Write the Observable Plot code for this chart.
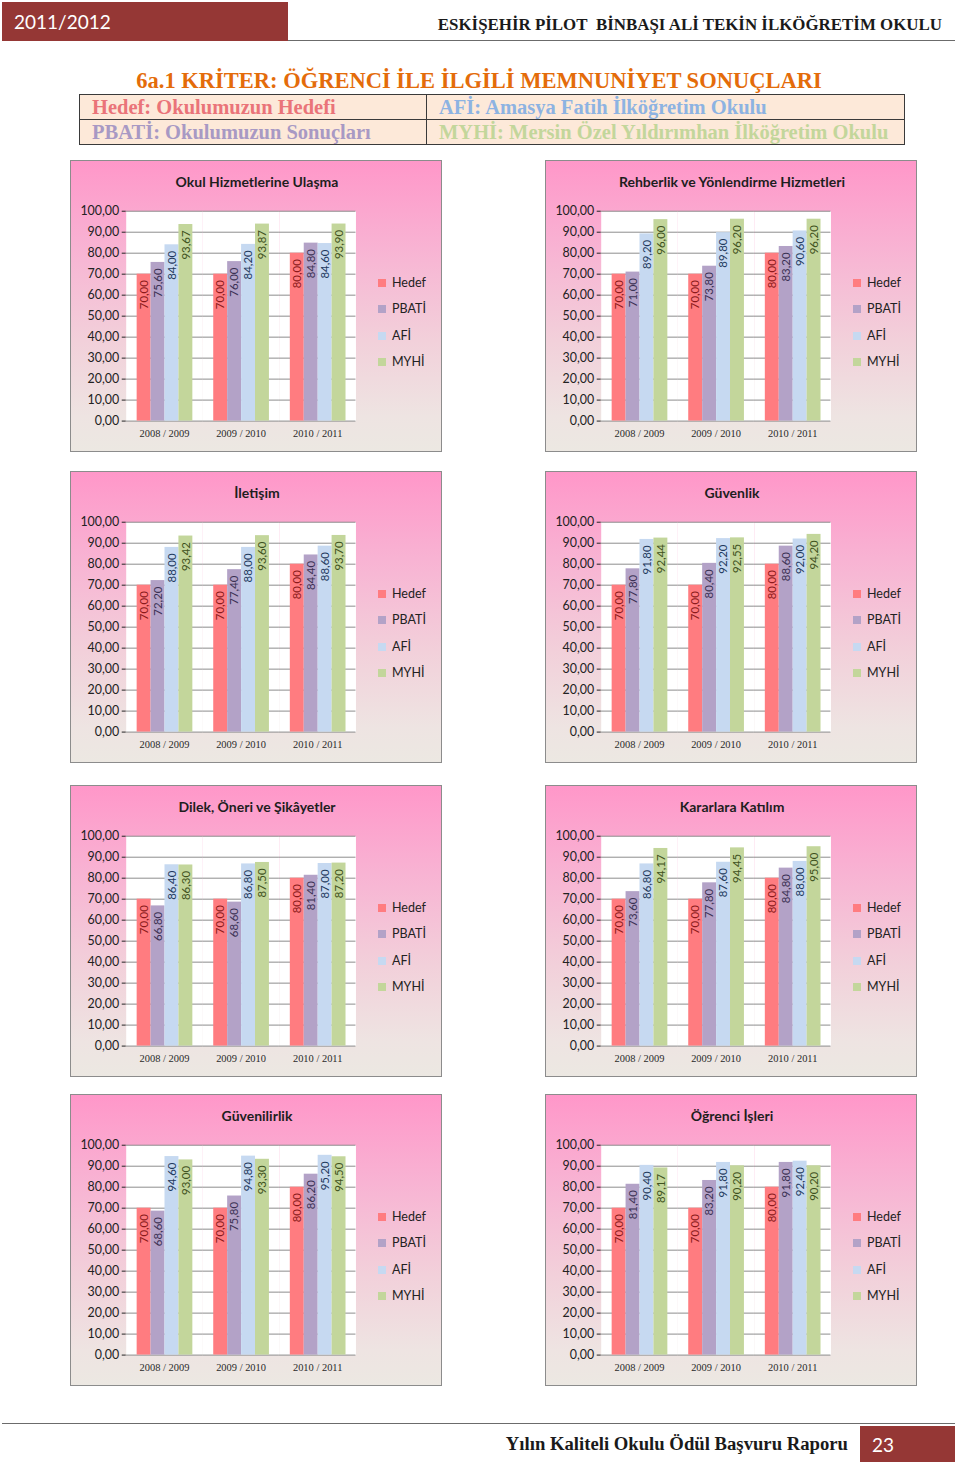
<!DOCTYPE html>
<html>
<head>
<meta charset="utf-8">
<script src="https://cdn.jsdelivr.net/npm/d3@7"></script>
<script src="https://cdn.jsdelivr.net/npm/@observablehq/plot@0.6"></script>
<style>
  html, body { margin: 0; padding: 0; background: #fff; }
  body { width: 960px; height: 1465px; position: relative; overflow: hidden; font-family: Lato, "Open Sans", sans-serif; }
  .abs { position: absolute; }
  #topbox { left: 2px; top: 2px; width: 286px; height: 39px; background: #953735; color: #fff; font: 19px Lato, sans-serif; line-height: 39px; padding-left: 12px; box-sizing: border-box; }
  #topline { left: 288px; top: 40px; width: 667px; height: 0; border-top: 1.5px solid #6b6b6b; }
  #school { right: 18px; top: 15px; font: bold 16.9px "Liberation Serif", serif; color: #1a1a1a; white-space: nowrap; }
  #maintitle { left: 0; width: 958px; top: 68px; text-align: center; font: bold 22.5px "Liberation Serif", serif; color: #e46c0a; white-space: nowrap; }
  #legendtable { left: 79px; top: 94px; width: 826px; height: 49px; border-collapse: collapse; background: #fde9d9; }
  #legendtable td { border: 1.2px solid #3a3a3a; font: bold 20.5px "Liberation Serif", serif; padding: 0 0 0 12px; height: 24px; line-height: 22px; white-space: nowrap; }
  .panel { position: absolute; width: 372px; height: 292px; box-sizing: border-box; border: 1.5px solid #8c8c8c;
           background: linear-gradient(to bottom, #ff97c9 0%, #f8b3d3 30%, #f2d0da 62%, #eee4e2 88%, #ece8e2 100%); }
  .ptitle { position: absolute; left: 0; width: 372px; top: 12px; text-align: center; font: bold 14px Lato, sans-serif; color: #1e1e1e; white-space: nowrap; }
  .plegend { position: absolute; left: 307px; top: 114px; }
  .plegend div { height: 26.3px; line-height: 26.3px; font: 12.5px Lato, sans-serif; color: #222; white-space: nowrap; }
  .plegend span.sw { display: inline-block; width: 8px; height: 8px; margin-right: 6px; vertical-align: 0px; }
  .panel svg { position: absolute; left: 0; top: 0; overflow: visible; }
  .panel svg [aria-label^="fx-axis"] text { font-family: "Liberation Serif", serif; font-size: 10.5px; fill: #2a2a2a; }
  .panel svg [aria-label^="y-axis"] text { font-family: Lato, sans-serif; font-size: 12.5px; fill: #222; }
  #bottomline { left: 2px; top: 1423px; width: 953px; height: 0; border-top: 1.5px solid #6b6b6b; }
  #footer { right: 112px; top: 1433px; font: bold 18.7px "Liberation Serif", serif; color: #1a1a1a; white-space: nowrap; }
  #pagebox { left: 860px; top: 1426px; width: 95px; height: 36px; background: #953735; color: #fff; font: 19px Lato, sans-serif; line-height: 38px; padding-left: 12px; box-sizing: border-box; }
</style>
</head>
<body>
<div id="topbox" class="abs">2011/2012</div>
<div id="topline" class="abs"></div>
<div id="school" class="abs">ESKİŞEHİR PİLOT&nbsp; BİNBAŞI ALİ TEKİN İLKÖĞRETİM OKULU</div>
<div id="maintitle" class="abs">6a.1 KRİTER: ÖĞRENCİ İLE İLGİLİ MEMNUNİYET SONUÇLARI</div>
<table id="legendtable" class="abs">
  <tr><td style="color:#ea7479;width:334px">Hedef: Okulumuzun Hedefi</td><td style="color:#8db3e2">AFİ: Amasya Fatih İlköğretim Okulu</td></tr>
  <tr><td style="color:#a899c4">PBATİ: Okulumuzun Sonuçları</td><td style="color:#c3d69b">MYHİ: Mersin Özel Yıldırımhan İlköğretim Okulu</td></tr>
</table>
<div id="charts"></div>
<div id="bottomline" class="abs"></div>
<div id="footer" class="abs">Yılın Kaliteli Okulu Ödül Başvuru Raporu</div>
<div id="pagebox" class="abs">23</div>

<script>
// ---- data ----
const years = ["2008 / 2009", "2009 / 2010", "2010 / 2011"];
const series = ["Hedef", "PBATİ", "AFİ", "MYHİ"];
const yTicks = [0, 10, 20, 30, 40, 50, 60, 70, 80, 90, 100];
const chartTitles = [
  "Okul Hizmetlerine Ulaşma",
  "Rehberlik ve Yönlendirme Hizmetleri",
  "İletişim",
  "Güvenlik",
  "Dilek, Öneri ve Şikâyetler",
  "Kararlara Katılım",
  "Güvenilirlik",
  "Öğrenci İşleri"
];
const hedef = [
  [70, 70, 80], [70, 70, 80], [70, 70, 80], [70, 70, 80],
  [70, 70, 80], [70, 70, 80], [70, 70, 80], [70, 70, 80]
];
const pbati = [
  [75.6, 76.0, 84.8], [71.0, 73.8, 83.2], [72.2, 77.4, 84.4], [77.8, 80.4, 88.6],
  [66.8, 68.6, 81.4], [73.6, 77.8, 84.8], [68.6, 75.8, 86.2], [81.4, 83.2, 91.8]
];
const afi = [
  [84.0, 84.2, 84.6], [89.2, 89.8, 90.6], [88.0, 88.0, 88.6], [91.8, 92.2, 92.0],
  [86.4, 86.8, 87.0], [86.8, 87.6, 88.0], [94.6, 94.8, 95.2], [90.4, 91.8, 92.4]
];
const myhi = [
  [93.67, 93.87, 93.90], [96.00, 96.20, 96.20], [93.42, 93.60, 93.70], [92.44, 92.55, 94.20],
  [86.30, 87.50, 87.20], [94.17, 94.45, 95.00], [93.00, 93.30, 94.50], [89.17, 90.20, 90.20]
];
const barColors = ["#ff7c80", "#b3a2c7", "#c6d9f1", "#c3d69b"];
const labelColors = ["#8b1a1a", "#3b3154", "#1f3a5e", "#3f5220"];

// ---- layout ----
const panelLeft = [70, 545];
const panelTop = [160, 471, 785, 1094];

const fmt = v => v.toFixed(2).replace(".", ",");
const container = document.getElementById("charts");

chartTitles.forEach((title, k) => {
  const seriesValues = [hedef[k], pbati[k], afi[k], myhi[k]];
  const data = years.flatMap((year, i) =>
    series.map((s, j) => ({year, series: s, value: seriesValues[j][i]})));

  const panel = document.createElement("div");
  panel.className = "panel";
  panel.style.left = panelLeft[k % 2] + "px";
  panel.style.top = panelTop[Math.floor(k / 2)] + "px";

  const chart = Plot.plot({
    width: 372,
    height: 292,
    marginLeft: 55,
    marginRight: 86,
    marginTop: 50,
    marginBottom: 31,
    style: {background: "transparent", fontFamily: "Lato, sans-serif", fontSize: "12px", color: "#222", overflow: "visible"},
    facet: {data, x: "year"},
    fx: {domain: years, axis: "bottom", padding: 0, label: null, tickSize: 0, tickPadding: 9},
    x: {domain: series, axis: null, paddingInner: 0, paddingOuter: 0.7},
    y: {domain: [0, 100], ticks: yTicks, tickFormat: fmt, label: null, tickSize: 4, tickPadding: 3},
    color: {type: "identity"},
    marks: [
      Plot.frame({fill: "white", stroke: null}),
      Plot.ruleY(yTicks, {stroke: "#8c8c8c", strokeWidth: 1}),
      Plot.barY(data, {x: "series", y: "value", fill: d => barColors[series.indexOf(d.series)]}),
      Plot.text(data, {
        x: "series", y: "value", text: d => fmt(d.value), rotate: -90, textAnchor: "end",
        dy: 6, fontSize: 11.5, fill: d => labelColors[series.indexOf(d.series)]
      })
    ]
  });
  panel.appendChild(chart);

  const t = document.createElement("div");
  t.className = "ptitle";
  t.textContent = title;
  panel.appendChild(t);

  const leg = document.createElement("div");
  leg.className = "plegend";
  series.forEach((s, j) => {
    const row = document.createElement("div");
    const sw = document.createElement("span");
    sw.className = "sw";
    sw.style.background = barColors[j];
    row.appendChild(sw);
    row.appendChild(document.createTextNode(s));
    leg.appendChild(row);
  });
  panel.appendChild(leg);

  container.appendChild(panel);
});
</script>
</body>
</html>
